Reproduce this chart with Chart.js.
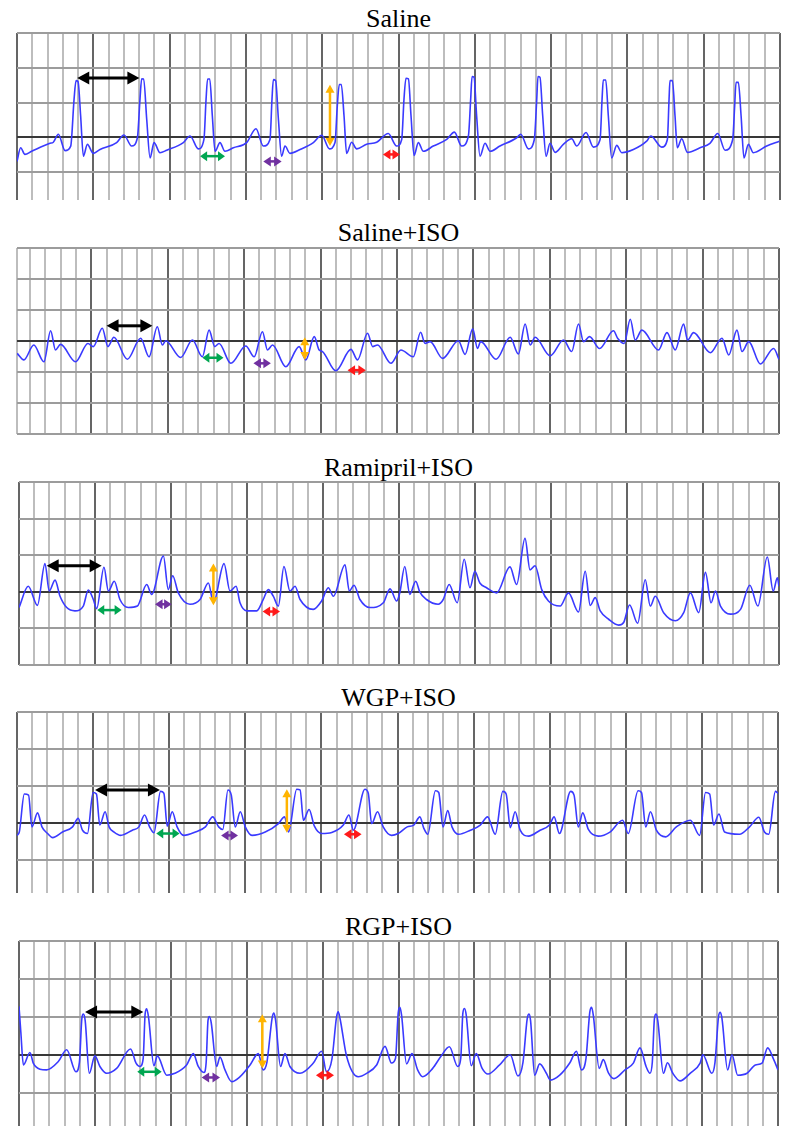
<!DOCTYPE html>
<html><head><meta charset="utf-8">
<script src="https://cdn.jsdelivr.net/npm/chart.js@4.4.1/dist/chart.umd.min.js"></script>
<style>
html,body{margin:0;padding:0;background:#fff;width:793px;height:1138px;overflow:hidden;position:relative}
canvas{position:absolute}
.t{position:absolute;left:0;width:797px;text-align:center;font-family:"Liberation Serif","DejaVu Serif","Times New Roman",serif;font-size:26px;line-height:26px;color:#000;white-space:nowrap}
</style></head><body>
<script>
// ---------- DATA ----------
const panelTitles = ["Saline", "Saline+ISO", "Ramipril+ISO", "WGP+ISO", "RGP+ISO"];

// x in small grid divisions, y in large grid divisions (0 = isoelectric line)
const salineTrace = [[0,-0.69],[0.24,-0.30],[0.52,-0.49],[0.96,-0.40],[2.16,-0.17],[2.38,-0.14],[2.71,0.09],[3.15,-0.38],[3.52,-0.25],[3.74,1.10],[3.87,1.63],[4.0,1.60],[4.17,0.62],[4.35,-0.54],[4.61,-0.20],[5.0,-0.46],[5.44,-0.35],[6.53,-0.15],[7.01,0.07],[7.51,-0.25],[7.89,-0.01],[8.06,1.10],[8.17,1.68],[8.30,1.68],[8.50,0.52],[8.72,-0.59],[8.98,-0.15],[9.37,-0.44],[9.81,-0.37],[10.90,-0.15],[11.34,0.04],[11.88,-0.33],[12.25,-0.06],[12.39,1.10],[12.49,1.68],[12.63,1.68],[12.80,0.62],[12.98,-0.40],[13.30,-0.15],[13.63,-0.40],[14.18,-0.30],[15.05,-0.15],[15.66,0.25],[16.14,-0.25],[16.58,-0.06],[16.71,1.10],[16.80,1.66],[16.95,1.63],[17.13,0.52],[17.34,-0.54],[17.56,-0.25],[17.89,-0.46],[18.55,-0.35],[19.42,-0.15],[19.97,0.06],[20.47,-0.33],[20.84,-0.15],[20.99,0.91],[21.12,1.52],[21.25,1.52],[21.43,0.62],[21.60,-0.46],[21.93,-0.14],[22.26,-0.33],[22.91,-0.20],[23.57,-0.14],[24.33,0.11],[24.88,-0.25],[25.21,-0.06],[25.36,1.10],[25.49,1.70],[25.65,1.68],[25.82,0.62],[26.02,-0.52],[26.30,-0.15],[26.63,-0.40],[27.28,-0.25],[28.16,-0.06],[28.66,0.15],[29.14,-0.25],[29.58,0.04],[29.73,1.10],[29.82,1.75],[29.95,1.73],[30.12,0.62],[30.34,-0.54],[30.67,-0.17],[31.0,-0.40],[31.65,-0.25],[32.75,-0.01],[33.01,0.09],[33.51,-0.33],[33.90,-0.06],[34.06,1.10],[34.14,1.75],[34.27,1.73],[34.45,0.62],[34.67,-0.54],[34.93,-0.17],[35.26,-0.43],[35.80,-0.20],[36.35,-0.04],[36.68,-0.25],[37.29,0.14],[37.77,-0.28],[38.21,-0.06],[38.34,1.10],[38.42,1.65],[38.58,1.65],[38.75,0.62],[38.97,-0.59],[39.30,-0.23],[39.63,-0.44],[40.39,-0.35],[41.26,-0.11],[41.53,0.04],[42.25,-0.28],[42.62,-0.06],[42.73,1.10],[42.79,1.63],[42.95,1.63],[43.12,0.62],[43.27,-0.30],[43.56,-0.04],[43.93,-0.43],[44.76,-0.30],[45.41,-0.17],[45.92,0.11],[46.40,-0.37],[46.90,-0.06],[47.03,0.91],[47.12,1.58],[47.27,1.58],[47.45,0.62],[47.64,-0.59],[47.93,-0.20],[48.25,-0.44],[49.13,-0.25],[49.96,-0.11]];

const salineIsoTrace = [[0.15,-0.40],[0.59,-0.61],[1.24,-0.13],[1.90,-0.67],[2.34,0.33],[2.66,-0.29],[2.99,-0.11],[3.97,-0.67],[4.78,-0.08],[5.13,-0.18],[5.72,0.41],[6.09,-0.18],[6.48,0.12],[7.36,-0.59],[8.23,0.09],[8.78,-0.51],[9.32,0.46],[9.65,-0.13],[9.87,0.01],[10.85,-0.53],[11.62,0.03],[12.27,-0.51],[12.71,0.35],[13.08,-0.18],[13.36,-0.08],[14.13,-0.72],[15.11,-0.16],[15.66,-0.51],[16.20,0.30],[16.53,-0.29],[16.86,-0.13],[17.73,-0.83],[18.60,-0.18],[19.04,-0.61],[19.59,0.14],[19.91,-0.29],[20.13,-0.34],[21.0,-0.96],[21.99,-0.27],[22.42,-0.61],[23.08,0.25],[23.41,-0.18],[23.73,-0.13],[24.61,-0.72],[25.26,-0.29],[26.07,-0.51],[26.55,0.28],[26.84,-0.08],[27.17,-0.02],[27.99,-0.56],[29.02,0.01],[29.46,-0.43],[29.96,0.39],[30.27,-0.24],[30.48,-0.02],[31.49,-0.59],[32.41,0.12],[32.95,-0.42],[33.39,0.55],[33.72,-0.13],[34.04,0.12],[35.03,-0.48],[35.90,0.03],[36.44,-0.34],[36.88,0.55],[37.21,-0.02],[37.60,0.14],[38.26,-0.24],[39.17,0.33],[39.44,0.09],[39.87,-0.08],[40.27,0.70],[40.59,0.03],[41.03,0.35],[42.12,-0.29],[42.67,0.27],[43.21,-0.29],[43.76,0.55],[44.02,0.03],[44.41,0.27],[45.51,-0.38],[46.27,0.09],[46.71,-0.45],[47.25,0.35],[47.58,-0.34],[48.02,-0.02],[48.78,-0.74],[49.65,-0.24],[50,-0.59]];

const ramiprilIsoTrace = [[0,-0.43],[0.61,0.15],[1.21,-0.37],[1.71,0.77],[1.99,0.02],[2.37,0.32],[2.70,-0.12],[3.14,-0.43],[3.68,-0.52],[4.23,-0.39],[4.56,0.05],[4.89,-0.21],[5.11,-0.46],[5.59,0.67],[5.88,0.02],[6.27,0.29],[6.64,-0.21],[7.19,-0.43],[7.79,-0.39],[8.40,0.20],[8.73,-0.07],[9.50,0.98],[9.82,0.06],[10.11,0.44],[10.48,-0.03],[11.25,-0.34],[11.91,-0.21],[12.46,0.24],[12.79,-0.30],[13.49,0.77],[13.88,0.02],[14.28,0.15],[14.54,-0.30],[14.98,-0.52],[15.64,-0.52],[16.07,-0.21],[16.40,0.06],[16.73,-0.12],[17.06,-0.39],[17.43,0.69],[17.83,0.02],[18.16,0.15],[18.49,-0.21],[19.36,-0.48],[19.91,-0.25],[20.35,0.11],[20.68,-0.12],[21.45,0.74],[21.73,0.02],[22.04,0.18],[22.43,-0.21],[23.09,-0.43],[23.97,-0.30],[24.41,0.08],[24.85,-0.25],[25.05,-0.03],[25.38,0.69],[25.71,-0.07],[26.10,0.29],[26.37,-0.01],[26.81,-0.21],[27.58,-0.34],[27.91,-0.21],[28.30,0.20],[28.83,-0.30],[29.29,0.89],[29.67,0.11],[29.99,0.56],[30.32,0.24],[30.76,0.11],[31.42,-0.03],[32.30,0.68],[32.74,0.20],[33.29,1.46],[33.62,0.60],[33.95,0.71],[34.39,0.06],[34.83,-0.25],[35.60,-0.39],[36.15,-0.03],[36.81,-0.55],[37.25,0.56],[37.58,-0.37],[37.91,-0.16],[38.24,-0.52],[38.79,-0.75],[39.45,-0.91],[39.78,-0.84],[40.17,-0.36],[40.70,-0.86],[41.20,0.33],[41.53,-0.39],[41.86,-0.12],[42.41,-0.57],[43.18,-0.79],[43.73,-0.57],[44.17,-0.03],[44.72,-0.57],[45.16,0.53],[45.53,-0.30],[45.82,0.02],[46.15,-0.39],[46.81,-0.61],[47.47,-0.48],[48.08,0.18],[48.61,-0.39],[49.23,0.95],[49.62,0.02],[49.89,0.38],[50,0.15]];

const wgpIsoTrace = [[0,-0.34],[0.15,-0.25],[0.48,0.78],[0.76,0.75],[0.98,-0.11],[1.35,0.27],[1.64,-0.11],[2.01,-0.29],[2.34,-0.40],[2.99,-0.25],[3.65,-0.11],[4.02,0.12],[4.30,-0.20],[4.63,-0.29],[5.0,0.82],[5.22,0.78],[5.44,-0.06],[5.79,0.30],[6.05,-0.11],[6.38,-0.25],[6.81,-0.34],[7.58,-0.20],[8.01,-0.11],[8.38,0.21],[8.71,-0.11],[9.0,-0.27],[9.43,0.85],[9.65,0.80],[9.87,-0.09],[10.20,0.30],[10.52,-0.11],[10.96,-0.34],[11.72,-0.25],[12.38,-0.11],[12.86,0.16],[13.25,-0.11],[13.52,-0.18],[13.86,0.89],[14.08,0.75],[14.34,-0.11],[14.67,0.30],[15.0,-0.11],[15.44,-0.34],[16.31,-0.25],[17.18,-0.02],[17.58,0.16],[17.84,-0.25],[18.38,0.91],[18.60,0.89],[18.82,0.07],[19.19,0.36],[19.54,-0.09],[20.02,-0.29],[20.68,-0.26],[21.44,-0.06],[21.81,0.21],[22.10,-0.20],[22.86,0.91],[23.08,0.80],[23.30,-0.02],[23.69,0.30],[24.06,-0.11],[24.61,-0.34],[25.04,-0.29],[25.64,-0.11],[26.07,-0.06],[26.47,0.16],[26.73,-0.15],[26.99,-0.31],[27.49,0.87],[27.71,0.82],[27.99,-0.11],[28.30,0.33],[28.58,-0.11],[29.02,-0.31],[29.79,-0.20],[30.44,-0.06],[30.92,0.16],[31.42,-0.31],[31.92,0.85],[32.14,0.78],[32.41,-0.13],[32.73,0.30],[33.06,-0.20],[33.61,-0.36],[34.37,-0.20],[34.98,-0.06],[35.29,0.16],[35.64,-0.29],[36.38,0.85],[36.60,0.75],[36.88,-0.11],[37.17,0.27],[37.54,-0.18],[38.19,-0.36],[38.96,-0.25],[39.79,0.07],[40.16,-0.29],[40.81,0.87],[41.03,0.82],[41.31,-0.11],[41.62,0.30],[42.01,-0.20],[42.62,-0.38],[43.32,-0.11],[44.24,0.07],[44.85,-0.34],[45.24,0.82],[45.51,0.78],[45.77,-0.06],[46.12,0.24],[46.49,-0.25],[47.47,-0.31],[48.13,-0.11],[48.74,0.15],[49.11,-0.25],[49.39,-0.31],[49.83,0.85],[50,0.80]];

const rgpIsoTrace = [[0,1.28],[0.12,0.6],[0.29,-0.27],[0.72,0.06],[0.94,-0.22],[1.38,-0.38],[1.82,-0.40],[2.59,-0.18],[3.14,0.13],[3.75,-0.45],[3.98,-0.2],[4.14,0.95],[4.24,1.07],[4.36,0.9],[4.63,-0.49],[5.0,-0.03],[5.33,-0.31],[5.77,-0.49],[6.43,-0.36],[7.35,0.15],[7.71,-0.22],[7.97,-0.31],[8.18,-0.1],[8.31,1.08],[8.41,1.21],[8.53,1.0],[8.89,-0.29],[9.11,-0.03],[9.73,-0.54],[10.27,-0.49],[11.04,-0.27],[11.48,0.03],[11.81,-0.31],[12.18,-0.47],[12.33,-0.2],[12.45,0.9],[12.54,1.01],[12.66,0.85],[13.02,-0.31],[13.24,-0.06],[13.57,-0.40],[14.01,-0.71],[14.56,-0.58],[15.22,-0.27],[15.76,0.03],[16.09,-0.40],[16.33,-0.2],[16.68,0.98],[16.79,1.10],[16.9,0.92],[17.23,-0.31],[17.52,0.03],[17.85,-0.31],[18.51,-0.49],[19.39,-0.22],[19.93,0.09],[20.26,-0.45],[20.62,-0.1],[20.92,1.0],[21.03,1.13],[21.15,0.95],[21.58,-0.04],[22.35,-0.58],[22.90,-0.49],[23.56,-0.27],[24.11,0.22],[24.54,-0.22],[24.8,-0.1],[24.98,1.1],[25.09,1.25],[25.2,1.05],[25.53,-0.24],[25.89,0.03],[26.26,-0.40],[26.59,-0.58],[27.25,-0.36],[27.80,-0.04],[28.35,0.21],[28.90,-0.31],[29.1,-0.1],[29.24,1.1],[29.35,1.22],[29.46,1.05],[29.79,-0.29],[30.12,0.03],[30.51,-0.36],[30.89,-0.51],[31.66,-0.27],[32.36,0],[32.87,-0.56],[33.2,-0.2],[33.48,0.95],[33.60,1.07],[33.7,0.9],[33.97,-0.54],[34.30,-0.24],[34.74,-0.49],[35.01,-0.67],[35.62,-0.54],[36.28,-0.22],[36.72,0.09],[37.05,-0.40],[37.35,-0.1],[37.6,1.12],[37.72,1.25],[37.83,1.05],[38.22,-0.36],[38.49,-0.13],[38.82,-0.47],[39.19,-0.63],[39.92,-0.40],[40.47,-0.22],[40.91,0.18],[41.31,-0.31],[41.57,-0.49],[41.72,-0.2],[41.86,0.95],[41.97,1.07],[42.08,0.9],[42.45,-0.49],[42.72,-0.21],[43.07,-0.49],[43.55,-0.69],[44.21,-0.49],[44.87,-0.22],[45.05,0],[45.64,-0.49],[45.85,-0.2],[46.08,1.0],[46.20,1.12],[46.31,0.95],[46.68,-0.40],[46.97,0],[47.34,-0.54],[47.96,-0.49],[48.51,-0.27],[48.95,-0.22],[49.32,0.18],[49.72,-0.13],[50,-0.40]];

// interval markers [x1, y1, x2, y2] in order: RR, PR, QRS, R amplitude, QT
const salineMarks    = [[3.95,1.71,8.02,1.71],[12.0,-0.54,13.63,-0.54],[16.14,-0.69,17.34,-0.69],[20.51,1.51,20.51,-0.25],[23.98,-0.49,25.1,-0.49]];
const salineIsoMarks = [[6.0,0.49,9.0,0.49],[12.27,-0.54,13.65,-0.54],[15.61,-0.72,16.75,-0.72],[18.97,0.12,18.97,-0.61],[21.77,-0.94,22.97,-0.94]];
const ramiprilMarks  = [[1.82,0.71,5.44,0.71],[5.15,-0.50,6.75,-0.50],[8.95,-0.34,10.04,-0.34],[12.79,0.77,12.79,-0.37],[16.03,-0.54,17.17,-0.54]];
const wgpMarks       = [[5.13,0.89,9.39,0.89],[9.15,-0.29,10.68,-0.29],[13.41,-0.34,14.52,-0.34],[17.73,0.91,17.73,-0.27],[21.48,-0.31,22.64,-0.31]];
const rgpMarks       = [[4.35,1.13,8.19,1.13],[7.79,-0.45,9.40,-0.45],[12.03,-0.60,13.24,-0.60],[16.03,1.07,16.03,-0.36],[19.56,-0.54,20.75,-0.54]];

// ---------- STYLE / LAYOUT ----------
const markStyles = [
  {color:'#000000', len:12, half:6.5, width:3},
  {color:'#00a651', len:7, half:5, width:2.5},
  {color:'#7030a0', len:7.5, half:5, width:2.5},
  {color:'#ffb400', len:8, half:4.5, width:2.5},
  {color:'#ff1a1a', len:7.5, half:5, width:2.5}
];
const PAD = 4;
const panels = [
  {trace: salineTrace,      marks: salineMarks,    titleTop: 6,   area:{l:17,r:780,t:33,b:200},  xMin:0,    yMin:-1.8, yMax:3, yLines:[3,2,1,0,-1]},
  {trace: salineIsoTrace,   marks: salineIsoMarks, titleTop: 220, area:{l:17,r:779,t:248,b:434}, xMin:0.14, yMin:-3,   yMax:3, yLines:[3,2,1,0,-1,-2,-3]},
  {trace: ramiprilIsoTrace, marks: ramiprilMarks,  titleTop: 455, area:{l:19,r:779,t:482,b:665}, xMin:0,    yMin:-2,   yMax:3, yLines:[3,2,1,0,-1,-2]},
  {trace: wgpIsoTrace,      marks: wgpMarks,       titleTop: 685, area:{l:17,r:778,t:712,b:893}, xMin:0,    yMin:-1.9, yMax:3, yLines:[3,2,1,0,-1]},
  {trace: rgpIsoTrace,      marks: rgpMarks,       titleTop: 914, area:{l:19,r:778,t:941,b:1126},xMin:0,    yMin:-1.88,yMax:3, yLines:[3,2,1,0,-1]}
];

const arrowPlugin = {
  id: 'markArrows',
  afterDatasetsDraw(chart) {
    const ctx = chart.ctx;
    chart.data.datasets.forEach((ds, i) => {
      if (!ds.markStyle) return;
      const meta = chart.getDatasetMeta(i);
      const a = meta.data[0], b = meta.data[1];
      const st = ds.markStyle;
      const dx = b.x - a.x, dy = b.y - a.y, L = Math.hypot(dx, dy) || 1;
      const ux = dx / L, uy = dy / L;
      ctx.save();
      ctx.strokeStyle = st.color; ctx.fillStyle = st.color; ctx.lineWidth = st.width;
      ctx.beginPath();
      ctx.moveTo(a.x + ux * st.len * 0.8, a.y + uy * st.len * 0.8);
      ctx.lineTo(b.x - ux * st.len * 0.8, b.y - uy * st.len * 0.8);
      ctx.stroke();
      [[a, -1], [b, 1]].forEach(([p, s]) => {
        const bx = p.x - s * ux * st.len, by = p.y - s * uy * st.len;
        ctx.beginPath();
        ctx.moveTo(p.x, p.y);
        ctx.lineTo(bx - uy * st.half, by + ux * st.half);
        ctx.lineTo(bx + uy * st.half, by - ux * st.half);
        ctx.closePath();
        ctx.fill();
      });
      ctx.restore();
    });
  }
};

panels.forEach((p, idx) => {
  const title = document.createElement('div');
  title.className = 't';
  title.style.top = p.titleTop + 'px';
  title.textContent = panelTitles[idx];
  document.body.appendChild(title);

  const cv = document.createElement('canvas');
  const w = p.area.r - p.area.l + 2 * PAD, h = p.area.b - p.area.t + 2 * PAD;
  cv.width = w; cv.height = h;
  cv.style.left = (p.area.l - PAD) + 'px';
  cv.style.top = (p.area.t - PAD) + 'px';
  cv.style.width = w + 'px'; cv.style.height = h + 'px';
  document.body.appendChild(cv);

  const xLines = [];
  if (p.xMin % 1 !== 0) xLines.push(p.xMin);
  for (let v = Math.ceil(p.xMin); v <= 50; v++) xLines.push(v);

  const datasets = [{
    data: p.trace.map(([x, y]) => ({x, y})),
    borderColor: '#3a3aff', borderWidth: 1.6, pointRadius: 0,
    cubicInterpolationMode: 'monotone', fill: false
  }];
  p.marks.forEach((m, k) => {
    datasets.push({
      data: [{x: m[0], y: m[1]}, {x: m[2], y: m[3]}],
      showLine: false, pointRadius: 0, markStyle: markStyles[k]
    });
  });

  new Chart(cv, {
    type: 'line',
    data: {datasets},
    plugins: [arrowPlugin],
    options: {
      responsive: false, animation: false, devicePixelRatio: 1, events: [],
      layout: {padding: PAD},
      plugins: {legend: {display: false}, tooltip: {enabled: false}, title: {display: false}},
      scales: {
        x: {
          type: 'linear', min: p.xMin, max: 50,
          ticks: {display: false}, border: {display: false},
          grid: {drawTicks: false, lineWidth: 2,
            color: c => (Math.abs(c.tick.value % 5) < 1e-6 ? '#656565' : '#bdbdbd')},
          afterBuildTicks: ax => { ax.ticks = xLines.map(v => ({value: v})); }
        },
        y: {
          type: 'linear', min: p.yMin, max: p.yMax,
          ticks: {display: false}, border: {display: false},
          grid: {drawTicks: false, lineWidth: 2,
            color: c => (c.tick.value === 0 ? '#383838' : '#9c9c9c')},
          afterBuildTicks: ax => { ax.ticks = p.yLines.map(v => ({value: v})); }
        }
      }
    }
  });
});
</script>
</body></html>
